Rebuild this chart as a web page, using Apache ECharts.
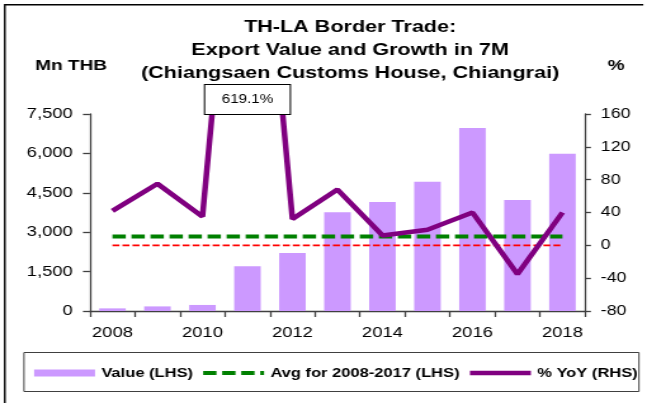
<!DOCTYPE html>
<html>
<head>
<meta charset="utf-8">
<script src="https://cdn.jsdelivr.net/npm/echarts@6/dist/echarts.min.js"></script>
<style>
  html, body { margin: 0; padding: 0; background: #fff; overflow: hidden; }
  /* the chart is laid out on a narrower canvas and widened horizontally */
  #chart { width: 510px; height: 403px; transform: scaleX(1.2686); transform-origin: 0 0; }
</style>
</head>
<body>
<div id="chart"></div>
<script>
// Export value (Mn THB, Jan-Jul) and year-on-year growth (%)
const years = ['2008', '2009', '2010', '2011', '2012', '2013', '2014', '2015', '2016', '2017', '2018'];
const exportValue = [100, 175, 230, 1700, 2210, 3760, 4150, 4920, 6970, 4230, 5990];
const yoyGrowth = [42, 75, 35, 619.1, 32, 68, 12, 19, 40, -35, 40];
const avg2008to2017 = 2840;
const zeroGrowth = 0;

const leftAxisTicks = { min: 0, max: 7500, interval: 1500 };
const rightAxisTicks = { min: -80, max: 160, interval: 40 };

const titleText = 'TH-LA Border Trade:\nExport Value and Growth in 7M\n(Chiangsaen Customs House, Chiangrai)';
const seriesNames = ['Value (LHS)', 'Avg for 2008-2017 (LHS)', '% YoY (RHS)'];

const FONT = '"Liberation Sans", Arial, sans-serif';
const axisColor = '#404040';

const avgLineStyle = { color: '#008000', width: 4, type: [10.5, 4.5] };
const yoyLineStyle = { color: '#800080', width: 4.5 };
const zeroLineStyle = { color: '#FF0000', width: 1.7, type: [5.5, 2.4] };

// legend entries for the lines show only the stroke, no marker
const noMarker = { color: 'rgba(0,0,0,0)', borderWidth: 0 };

const chart = echarts.init(document.getElementById('chart'), null, { renderer: 'canvas' });

chart.setOption({
  animation: false,
  backgroundColor: '#fff',
  textStyle: { fontFamily: FONT },
  title: [
    {
      text: titleText, left: 276, top: 15.5, padding: 0, textAlign: 'center',
      textStyle: { fontFamily: FONT, fontSize: 17, fontWeight: 'bold', lineHeight: 23, color: '#000' }
    },
    {
      text: 'Mn THB', left: 56, top: 57, padding: 0, textAlign: 'center',
      textStyle: { fontFamily: FONT, fontSize: 15, fontWeight: 'bold', lineHeight: 18, color: '#000' }
    },
    {
      text: '%', left: 485.6, top: 57, padding: 0, textAlign: 'center',
      textStyle: { fontFamily: FONT, fontSize: 15, fontWeight: 'bold', lineHeight: 18, color: '#000' }
    }
  ],
  graphic: [
    {
      type: 'polyline', silent: true,
      shape: { points: [[3.8, 403], [3.8, 4.7], [507.1, 4.7]] },
      style: { stroke: '#000', lineWidth: 1.4, fill: null }
    }
  ],
  legend: {
    left: 18.9, top: 352.5,
    padding: [14, 1, 12, 8],
    itemGap: 6, itemWidth: 48, itemHeight: 7,
    borderColor: axisColor, borderWidth: 1,
    textStyle: { fontFamily: FONT, fontSize: 13, fontWeight: 'bold', color: '#000' },
    data: [
      { name: seriesNames[0], icon: 'rect' },
      { name: seriesNames[1], itemStyle: noMarker, lineStyle: avgLineStyle },
      { name: seriesNames[2], itemStyle: noMarker, lineStyle: yoyLineStyle }
    ]
  },
  grid: { left: 70.9, right: 48.9, top: 114, bottom: 92, containLabel: false },
  xAxis: {
    type: 'category',
    data: years,
    boundaryGap: true,
    axisLine: { show: true, lineStyle: { color: axisColor, width: 1.3 } },
    axisTick: { show: true, interval: 0, length: 6, inside: false, lineStyle: { color: axisColor, width: 1.3 } },
    axisLabel: { interval: 1, margin: 14, fontSize: 14.5, color: '#000', fontFamily: FONT },
    splitLine: { show: false }
  },
  yAxis: [
    {
      type: 'value', position: 'left',
      min: leftAxisTicks.min, max: leftAxisTicks.max, interval: leftAxisTicks.interval,
      axisLine: { show: true, lineStyle: { color: axisColor, width: 1.3 } },
      axisTick: { show: true, length: 5.5, lineStyle: { color: axisColor, width: 1.3 } },
      axisLabel: {
        margin: 13.5, fontSize: 14.5, color: '#000', fontFamily: FONT,
        formatter: v => v.toLocaleString('en-US')
      },
      splitLine: { show: false }
    },
    {
      type: 'value', position: 'right',
      min: rightAxisTicks.min, max: rightAxisTicks.max, interval: rightAxisTicks.interval,
      axisLine: { show: true, lineStyle: { color: axisColor, width: 1.3 } },
      axisTick: { show: true, length: 4.7, lineStyle: { color: axisColor, width: 1.3 } },
      axisLabel: { margin: 12.5, fontSize: 14, color: '#000', fontFamily: FONT },
      splitLine: { show: false }
    }
  ],
  series: [
    {
      name: seriesNames[0], type: 'bar', yAxisIndex: 0,
      data: exportValue, barWidth: '59%',
      itemStyle: { color: '#CC99FF' }, z: 1
    },
    {
      name: 'zero line', type: 'line', yAxisIndex: 1,
      data: years.map(() => zeroGrowth),
      symbol: 'none', silent: true,
      lineStyle: zeroLineStyle,
      itemStyle: { color: zeroLineStyle.color }, z: 2
    },
    {
      name: seriesNames[1], type: 'line', yAxisIndex: 0,
      data: years.map(() => avg2008to2017),
      symbol: 'none',
      lineStyle: avgLineStyle,
      itemStyle: { color: avgLineStyle.color }, z: 3
    },
    {
      name: seriesNames[2], type: 'line', yAxisIndex: 1,
      data: yoyGrowth, symbol: 'none', clip: true,
      lineStyle: yoyLineStyle,
      itemStyle: { color: yoyLineStyle.color }, z: 4,
      markPoint: {
        symbol: 'circle', symbolSize: 0, silent: true,
        label: {
          show: true, position: 'top', distance: 0,
          formatter: p => p.value + '%',
          fontFamily: FONT, fontSize: 12, color: '#000',
          backgroundColor: '#fff', borderColor: '#000', borderWidth: 1,
          padding: [9, 13, 8, 13]
        },
        data: [{ coord: [years[3], rightAxisTicks.max], value: yoyGrowth[3] }]
      }
    }
  ]
});
</script>
</body>
</html>
